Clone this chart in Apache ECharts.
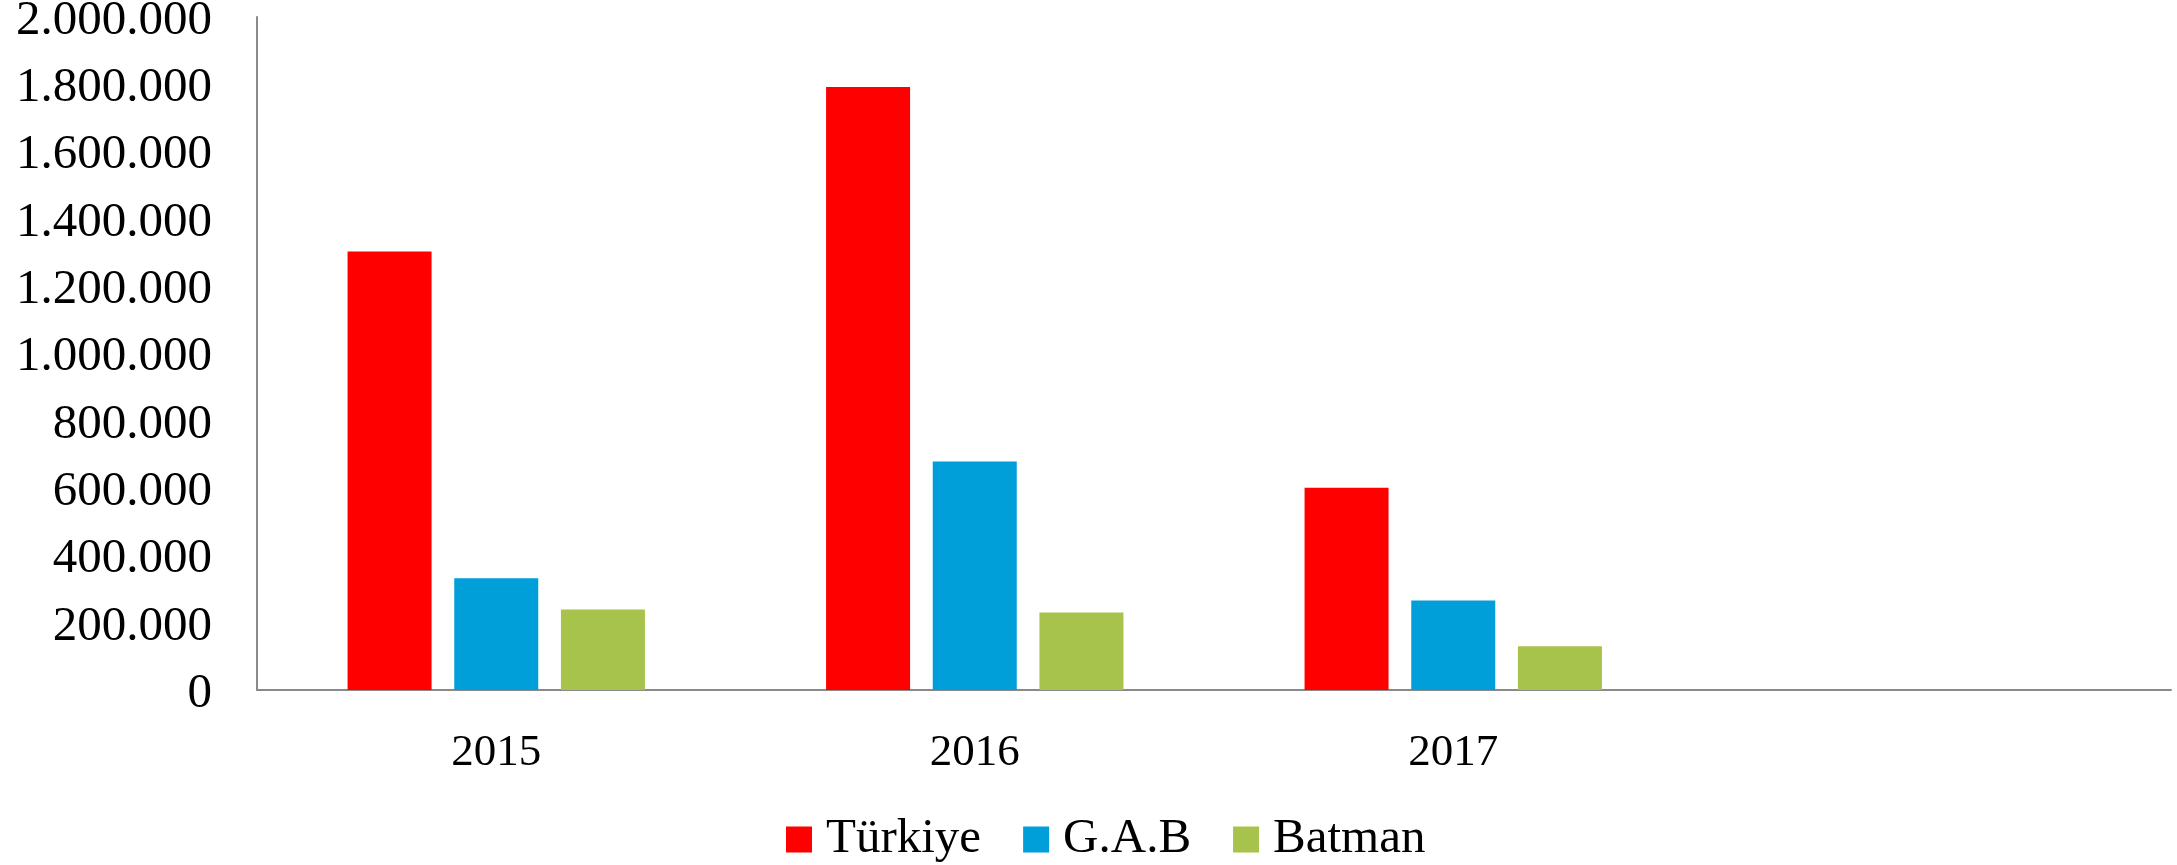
<!DOCTYPE html>
<html>
<head>
<meta charset="utf-8">
<script src="https://cdn.jsdelivr.net/npm/echarts@6/dist/echarts.min.js"></script>
<style>
html,body{margin:0;padding:0;background:#fff;}
#chart{width:2177px;height:865px;}
</style>
</head>
<body>
<div id="chart"></div>
<script>
const categories = ['2015', '2016', '2017', ''];
const seriesNames = ['Türkiye', 'G.A.B', 'Batman'];
const turkiye = [1303000, 1792000, 601000];
const gab = [332000, 679000, 266000];
const batman = [239000, 230000, 130000];
const yTicks = { min: 0, max: 2000000, interval: 200000 };
const colors = ['#FF0000', '#009FD9', '#A7C34B'];

function fmt(v) {
  return String(v).replace(/\B(?=(\d{3})+(?!\d))/g, '.');
}

const chart = echarts.init(document.getElementById('chart'));
const font = 'Liberation Serif';
chart.setOption({
  animation: false,
  backgroundColor: '#fff',
  color: colors,
  grid: { left: 257, right: 6, top: 17, bottom: 175, containLabel: false, outerBoundsMode: 'none' },
  legend: {
    data: seriesNames,
    left: 781,
    top: 810,
    icon: 'rect',
    itemWidth: 26,
    itemHeight: 26,
    itemGap: 42,
    textStyle: { fontFamily: font, fontSize: 49, color: '#000', lineHeight: 48, padding: [0, 0, 0, 9] }
  },
  xAxis: {
    type: 'category',
    data: categories,
    axisLine: { show: true, lineStyle: { color: '#8a8a8a', width: 2 } },
    axisTick: { show: false },
    axisLabel: { fontFamily: font, fontSize: 45, color: '#000', margin: 41, lineHeight: 45 },
    splitLine: { show: false }
  },
  yAxis: {
    type: 'value',
    min: yTicks.min,
    max: yTicks.max,
    interval: yTicks.interval,
    axisLine: { show: true, lineStyle: { color: '#8a8a8a', width: 2 } },
    axisTick: { show: false },
    splitLine: { show: false },
    axisLabel: { fontFamily: font, fontSize: 49, color: '#000', margin: 45, formatter: fmt, verticalAlign: 'top', lineHeight: 8 }
  },
  series: [
    { name: seriesNames[0], type: 'bar', data: turkiye, barWidth: 84, barGap: '27%' },
    { name: seriesNames[1], type: 'bar', data: gab, barWidth: 84, barGap: '27%' },
    { name: seriesNames[2], type: 'bar', data: batman, barWidth: 84, barGap: '27%' }
  ]
});
</script>
</body>
</html>
